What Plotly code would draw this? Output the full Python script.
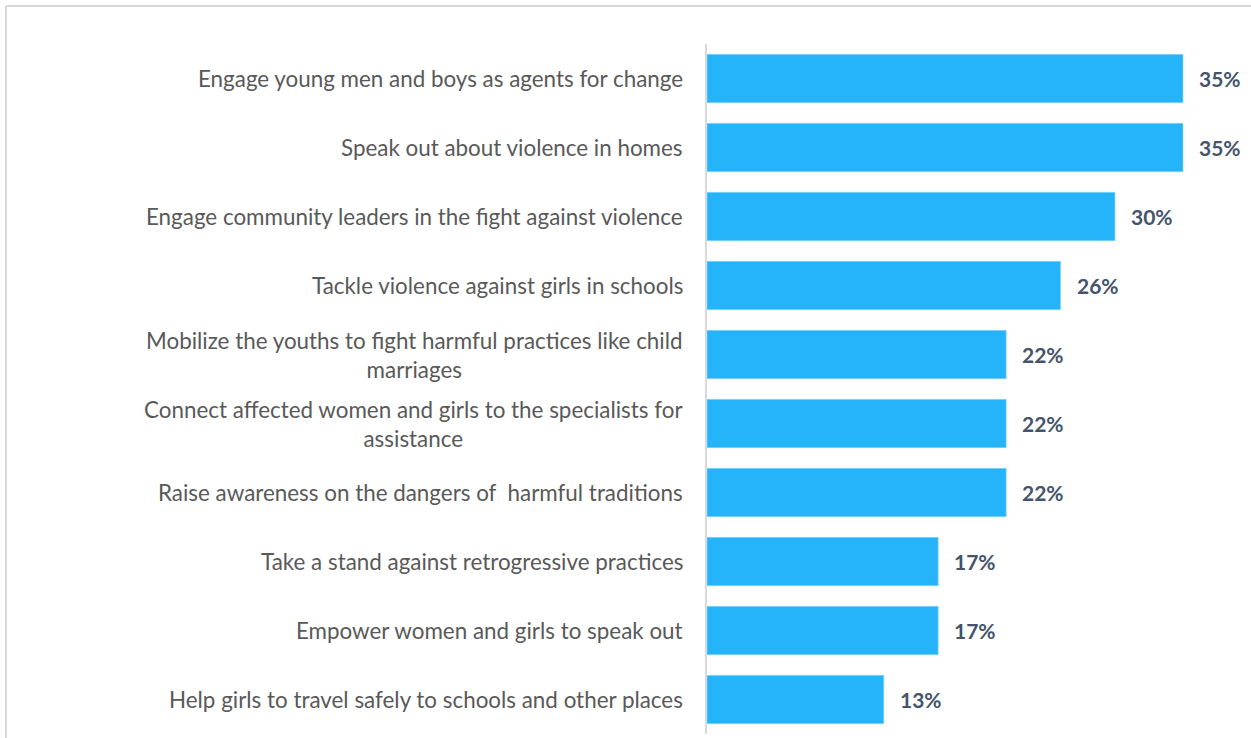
import plotly.graph_objects as go

# Survey results: share of respondents choosing each action
actions = [
    "Engage young men and boys as agents for change",
    "Speak out about violence in homes",
    "Engage community leaders in the fight against violence",
    "Tackle violence against girls in schools",
    "Mobilize the youths to fight harmful practices like child<br>marriages",
    "Connect affected women and girls to the specialists for<br>assistance",
    "Raise awareness on the dangers of \u00a0harmful traditions",
    "Take a stand against retrogressive practices",
    "Empower women and girls to speak out",
    "Help girls to travel safely to schools and other places",
]
shares = [35, 35, 30, 26, 22, 22, 22, 17, 17, 13]
share_labels = [f"{v}%" for v in shares]

BAR_COLOR = "#25B4FA"
LABEL_COLOR = "#595959"
VALUE_COLOR = "#44546A"
BORDER_COLOR = "#D9D9D9"
FONT = "Lato"

W, H = 1251, 738
L, R, T, B = 707, 0, 44, 4
plot_w = W - L - R
plot_h = H - T - B

fig = go.Figure(
    go.Bar(
        x=shares,
        y=list(range(len(actions))),
        orientation="h",
        marker=dict(color=BAR_COLOR, line=dict(color="#8FD8FC", width=0.6)),
        hoverinfo="skip",
    )
)

annotations = []
for i, (name, lab, v) in enumerate(zip(actions, share_labels, shares)):
    # category label, right-anchored next to the axis, lines centred
    annotations.append(dict(
        x=0, xref="paper", y=i, yref="y",
        text=name, showarrow=False,
        xanchor="right", yanchor="middle", align="center",
        xshift=-22,
        font=dict(family=FONT, size=22.4, color=LABEL_COLOR),
    ))
    # value label at the end of each bar
    annotations.append(dict(
        x=v, xref="x", y=i, yref="y",
        text=f"<b>{lab}</b>", showarrow=False,
        xanchor="left", yanchor="middle",
        xshift=14,
        font=dict(family=FONT, size=21, color=VALUE_COLOR),
    ))


def px_x(px):
    return (px - L) / plot_w


def px_y(py):
    return (H - B - py) / plot_h


shapes = [
    # outer frame: top and left edges
    dict(type="line", xref="paper", yref="paper",
         x0=px_x(6), x1=px_x(W + 2), y0=px_y(6), y1=px_y(6),
         line=dict(color=BORDER_COLOR, width=2)),
    dict(type="line", xref="paper", yref="paper",
         x0=px_x(6), x1=px_x(6), y0=px_y(6), y1=px_y(H + 4),
         line=dict(color=BORDER_COLOR, width=2)),
]

fig.update_layout(
    width=W, height=H,
    margin=dict(l=L, r=R, t=T, b=B, pad=0),
    paper_bgcolor="white", plot_bgcolor="white",
    bargap=0.3,
    showlegend=False,
    annotations=annotations,
    shapes=shapes,
    xaxis=dict(range=[0, 40], visible=False, fixedrange=True),
    yaxis=dict(
        range=[len(actions) - 0.5, -0.5],
        showticklabels=False, ticks="",
        showgrid=False, zeroline=False,
        showline=True, linecolor=BORDER_COLOR, linewidth=2,
        fixedrange=True,
    ),
)

fig.write_html("out.html")
